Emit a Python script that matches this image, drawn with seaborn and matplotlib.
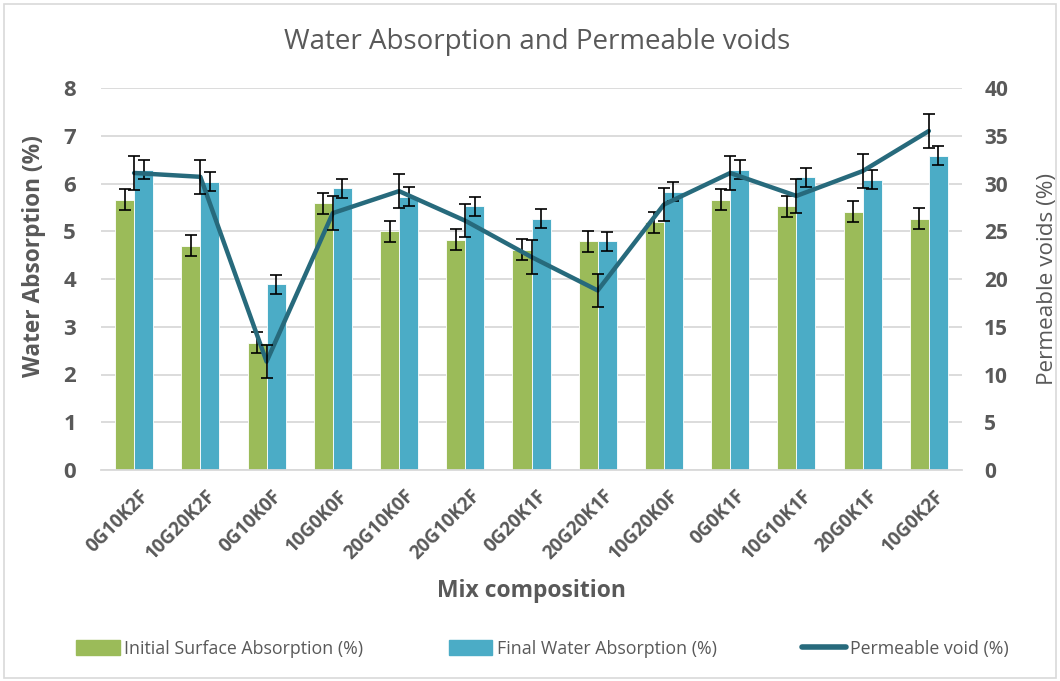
import numpy as np
import pandas as pd
import matplotlib
matplotlib.use("Agg")
import matplotlib.pyplot as plt
import matplotlib.patches as mpatches
import matplotlib.transforms as mtransforms
from matplotlib.lines import Line2D
import seaborn as sns

mixes = ["0G10K2F", "10G20K2F", "0G10K0F", "10G0K0F", "20G10K0F", "20G10K2F", "0G20K1F",
         "20G20K1F", "10G20K0F", "0G0K1F", "10G10K1F", "20G0K1F", "10G0K2F"]
initial_abs = [5.66, 4.70, 2.66, 5.59, 5.00, 4.82, 4.61, 4.79, 5.19, 5.66, 5.52, 5.41, 5.26]
final_abs = [6.29, 6.04, 3.89, 5.90, 5.72, 5.52, 5.26, 4.79, 5.83, 6.29, 6.13, 6.08, 6.58]
perm_voids = [31.1, 30.7, 11.35, 26.9, 29.2, 26.1, 22.3, 18.8, 27.8, 31.1, 28.7, 31.3, 35.5]
initial_err = [0.22, 0.22, 0.22, 0.22, 0.22, 0.22, 0.22, 0.22, 0.22, 0.22, 0.22, 0.22, 0.22]
final_err = [0.20, 0.20, 0.20, 0.20, 0.20, 0.20, 0.20, 0.20, 0.20, 0.20, 0.20, 0.20, 0.20]
voids_err = [1.75, 1.75, 1.75, 1.75, 1.75, 1.75, 1.75, 1.75, 1.75, 1.75, 1.75, 1.75, 1.75]

series_names = ["Initial Surface Absorption (%)", "Final Water Absorption (%)"]
line_name = "Permeable void (%)"

GREEN = "#9BBB59"
BLUE = "#4BACC6"
TEAL = "#276A7C"
GREY = "#595959"

sns.set_style("white")
plt.rcParams["font.family"] = ["Open Sans", "DejaVu Sans"]

df = pd.DataFrame({
    "mix": mixes * 2,
    "value": initial_abs + final_abs,
    "series": [series_names[0]] * len(mixes) + [series_names[1]] * len(mixes),
})

fig = plt.figure(figsize=(10.6, 6.81), dpi=100)
ax = fig.add_axes([101 / 1060, 1 - 470 / 681, 861 / 1060, 382 / 681])

sns.barplot(data=df, x="mix", y="value", hue="series", order=mixes,
            hue_order=series_names, palette=[GREEN, BLUE], width=0.575,
            errorbar=None, ax=ax, legend=False, saturation=1,
            edgecolor="white", linewidth=0.6)

# error bars on the bars, from the patch centres
n = len(mixes)
bars = ax.patches
centers_g = [b.get_x() + b.get_width() / 2 for b in bars[:n]]
centers_b = [b.get_x() + b.get_width() / 2 for b in bars[n:2 * n]]
ax.errorbar(centers_g, initial_abs, yerr=initial_err, fmt="none", ecolor="black",
            elinewidth=1.2, capsize=4, capthick=1.2, zorder=3)
ax.errorbar(centers_b, final_abs, yerr=final_err, fmt="none", ecolor="black",
            elinewidth=1.2, capsize=4, capthick=1.2, zorder=3)

ax.set_ylim(0, 8)
ax.set_xlim(-0.5, n - 0.5)
ax.set_yticks(range(0, 9))
ax.yaxis.grid(True, color="#D9D9D9", linewidth=1.3)
ax.set_axisbelow(True)
for s in ["top", "right", "left"]:
    ax.spines[s].set_visible(False)
ax.spines["bottom"].set_color("#D9D9D9")
ax.spines["bottom"].set_linewidth(1.3)

ax.tick_params(axis="y", length=0, pad=18, labelsize=16, labelcolor=GREY)
ax.tick_params(axis="x", length=0, pad=6, labelsize=13.5, labelcolor=GREY)
for t in ax.get_yticklabels():
    t.set_fontweight("bold")
ax.set_xticks(range(n))
ax.set_xticklabels(mixes, rotation=45, ha="right", rotation_mode="anchor",
                   fontweight="bold")
# nudge the slanted labels so they end just under each group
shift = mtransforms.ScaledTranslation(0.05, -0.08, fig.dpi_scale_trans)
for t in ax.get_xticklabels():
    t.set_transform(t.get_transform() + shift)

ax.set_ylabel("Water Absorption (%)", fontsize=16.3, fontweight="bold", color=GREY)
ax.yaxis.set_label_coords(-0.064, 0.56)
ax.set_xlabel("Mix composition", fontsize=16.5, fontweight="bold", color=GREY)
ax.xaxis.set_label_coords(0.5, -0.285)

# secondary axis: permeable voids line
ax2 = ax.twinx()
sns.lineplot(x=np.arange(n), y=perm_voids, color=TEAL, linewidth=3.2, ax=ax2,
             solid_capstyle="round", zorder=4)
ax2.errorbar(np.arange(n), perm_voids, yerr=voids_err, fmt="none", ecolor="black",
             elinewidth=1.2, capsize=4, capthick=1.2, zorder=5)
ax2.set_ylim(0, 40)
ax2.set_yticks(range(0, 45, 5))
ax2.set_xlim(-0.5, n - 0.5)
for s in ["top", "right", "left", "bottom"]:
    ax2.spines[s].set_visible(False)
ax2.tick_params(axis="y", length=0, pad=16, labelsize=15, labelcolor=GREY)
for t in ax2.get_yticklabels():
    t.set_fontweight("bold")
ax2.set_ylabel("Permeable voids (%)", fontsize=16.2, color=GREY)
ax2.yaxis.set_label_coords(1.087, 0.5)

fig.text(0.507, 1 - 42 / 681, "Water Absorption and Permeable voids", ha="center",
         va="center", fontsize=20, color=GREY)

handles = [mpatches.Patch(color=GREEN), mpatches.Patch(color=BLUE),
           Line2D([0], [0], color=TEAL, linewidth=4, solid_capstyle="round")]
fig.legend(handles, series_names + [line_name], loc="center", ncol=3,
           bbox_to_anchor=(0.512, 1 - 649 / 681), frameon=False, fontsize=12.8,
           labelcolor=GREY, handlelength=2.45, handleheight=0.9,
           handletextpad=0.25, columnspacing=4.8)

fig.patches.append(mpatches.Rectangle((4 / 1060, 3 / 681), 1052 / 1060, 674 / 681,
                                      transform=fig.transFigure, fill=False,
                                      edgecolor="#D9D9D9", linewidth=1.2))

fig.savefig("out.png", dpi=100)
